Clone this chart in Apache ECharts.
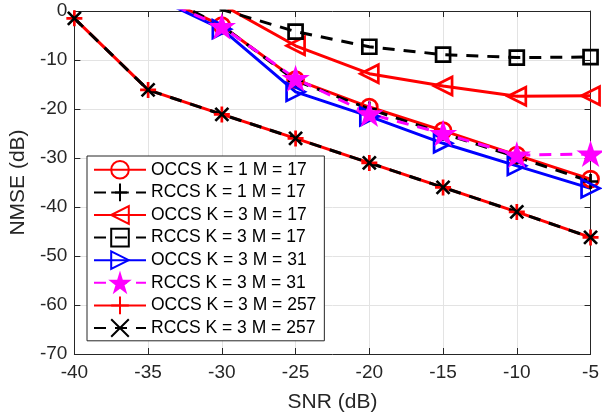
<!DOCTYPE html>
<html>
<head>
<meta charset="utf-8">
<script src="https://cdn.jsdelivr.net/npm/echarts@6/dist/echarts.min.js"></script>
<style>
html,body{margin:0;padding:0;background:#fff;}
#chart{width:602px;height:418px;}
</style>
</head>
<body>
<div id="chart"></div>
<script>
var snr = [-40, -35, -30, -25, -20, -15, -10, -5];
var occsK1M17  = [8, 4, -3.0, -14.0, -19.6, -24.4, -29.4, -34.3];
var rccsK1M17  = [8, 4.5, -3.0, -14.2, -20.0, -25.0, -29.8, -34.8];
var occsK3M17  = [8, 5, 1.3, -7.1, -12.8, -15.3, -17.4, -17.3];
var rccsK3M17  = [5, 3, 0.3, -4.2, -7.3, -8.9, -9.5, -9.4];
var occsK3M31  = [7, 3.4, -3.7, -16.5, -21.5, -27.0, -31.6, -36.2];
var rccsK3M31  = [7, 3.5, -3.2, -13.8, -21.0, -25.0, -29.4, -29.2];
var occsK3M257 = [-1.5, -16.1, -21.1, -26.0, -31.0, -36.0, -41.0, -46.2];
var rccsK3M257 = [-1.5, -16.1, -21.1, -26.0, -31.0, -36.0, -41.0, -46.2];
var names = ['OCCS K = 1 M = 17', 'RCCS K = 1 M = 17', 'OCCS K = 3 M = 17', 'RCCS K = 3 M = 17',
             'OCCS K = 3 M = 31', 'RCCS K = 3 M = 31', 'OCCS K = 3 M = 257', 'RCCS K = 3 M = 257'];
var xTicks = [-40, -35, -30, -25, -20, -15, -10, -5];
var yTicks = [-70, -60, -50, -40, -30, -20, -10, 0];

var FONT = 'Liberation Sans';
var AX = '#262626';
var PLUS = 'path://M5,0L5,10M0,5L10,5';
var CROSS = 'path://M0,0L10,10M10,0L0,10';
var STAR = 'path://M50,0L61.23,34.55L97.55,34.55L68.17,55.9L79.39,90.45L50,69.1L20.61,90.45L31.83,55.9L2.45,34.55L38.77,34.55Z';

function pts(ys) { return snr.map(function (x, i) { return [x, ys[i]]; }); }
function mk(name, ys, color, dashed, symbol, size, rot, fill) {
  return {
    name: name, type: 'line', data: pts(ys), clip: true,
    symbol: symbol, symbolSize: size, symbolRotate: rot || 0, symbolKeepAspect: true,
    lineStyle: { color: color, width: 3, type: dashed ? [12, 9] : 'solid' },
    itemStyle: { color: fill || 'rgba(0,0,0,0)', borderColor: color, borderWidth: 2.7 },
    emphasis: { disabled: true }
  };
}

var series = [
  mk(names[0], occsK1M17, '#ff0000', false, 'circle', 16),
  mk(names[1], rccsK1M17, '#000000', true, PLUS, 15),
  mk(names[2], occsK3M17, '#ff0000', false, 'triangle', 18, 90),
  mk(names[3], rccsK3M17, '#000000', true, 'rect', 14),
  mk(names[4], occsK3M31, '#0000ff', false, 'triangle', 18, -90),
  mk(names[5], rccsK3M31, '#ff00ff', true, STAR, 20, 0, '#ff00ff'),
  mk(names[6], occsK3M257, '#ff0000', false, PLUS, 16),
  mk(names[7], rccsK3M257, '#000000', true, CROSS, 13)
];

function axisCommon() {
  return {
    type: 'value',
    axisLine: { show: true, onZero: false, lineStyle: { color: AX, width: 1 } },
    axisTick: { show: true, inside: true, length: 6, lineStyle: { color: AX } }
  };
}
var xMain = Object.assign(axisCommon(), {
  min: xTicks[0], max: xTicks[xTicks.length - 1], interval: 5, position: 'bottom',
  name: 'SNR (dB)', nameLocation: 'middle', nameGap: 38,
  nameTextStyle: { fontSize: 21, color: AX, fontFamily: FONT },
  axisLabel: { fontSize: 19, color: AX, fontFamily: FONT, margin: 9 },
  splitLine: { show: true, lineStyle: { color: '#e3e3e3', width: 1 } }
});
var xTop = Object.assign(axisCommon(), {
  min: xTicks[0], max: xTicks[xTicks.length - 1], interval: 5, position: 'top',
  axisLabel: { show: false }, splitLine: { show: false }
});
var yMain = Object.assign(axisCommon(), {
  min: yTicks[0], max: yTicks[yTicks.length - 1], interval: 10, position: 'left',
  name: 'NMSE (dB)', nameLocation: 'middle', nameGap: 42, nameRotate: 90,
  nameTextStyle: { fontSize: 21, color: AX, fontFamily: FONT },
  axisLabel: { fontSize: 19, color: AX, fontFamily: FONT, margin: 7 },
  splitLine: { show: true, lineStyle: { color: '#e3e3e3', width: 1 } }
});
var yRight = Object.assign(axisCommon(), {
  min: yTicks[0], max: yTicks[yTicks.length - 1], interval: 10, position: 'right',
  axisLabel: { show: false }, splitLine: { show: false }
});

var chart = echarts.init(document.getElementById('chart'), null, { renderer: 'canvas' });
chart.setOption({
  animation: false,
  backgroundColor: '#fff',
  grid: { left: 73, top: 11, right: 10, bottom: 64, containLabel: false },
  xAxis: [xMain, xTop],
  yAxis: [yMain, yRight],
  legend: {
    data: names, orient: 'vertical', left: 87, top: 156,
    padding: [4, 8, 3, 6], itemGap: 3, itemWidth: 52, itemHeight: 22,
    backgroundColor: '#fff', borderColor: AX, borderWidth: 1,
    textStyle: { fontSize: 17.5, color: '#000', fontFamily: FONT },
    selectedMode: false
  },
  series: series
});
</script>
</body>
</html>
